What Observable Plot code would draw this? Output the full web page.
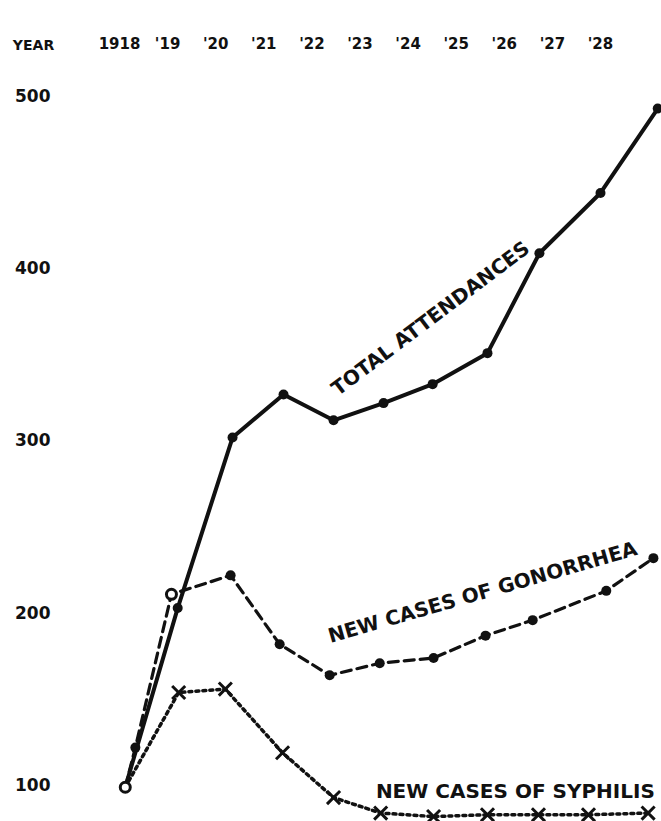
<!DOCTYPE html>
<html><head><meta charset="utf-8">
<script src="https://cdn.jsdelivr.net/npm/d3@7"></script>
<script src="https://cdn.jsdelivr.net/npm/@observablehq/plot@0.6"></script>
<style>body{margin:0;background:#fff}</style>
</head><body><div id="chart"></div>
<script>
// Year tick labels (top axis)
const yearTicks = [1918, 1919, 1920, 1921, 1922, 1923, 1924, 1925, 1926, 1927, 1928];
const valueTicks = [100, 200, 300, 400, 500];

// Total attendances (positions, in year units)
const totalX = [1918.12, 1919.21, 1920.35, 1921.41, 1922.45, 1923.49, 1924.51, 1925.65, 1926.73, 1928.0, 1929.19];
const totalV = [99, 203, 302, 327, 312, 322, 333, 351, 409, 444, 493];

// New cases of gonorrhea
const gonX = [1918.12, 1918.33, 1919.08, 1920.31, 1921.33, 1922.37, 1923.41, 1924.53, 1925.61, 1926.59, 1928.12, 1929.10];
const gonV = [99, 122, 211, 222, 182, 164, 171, 174, 187, 196, 213, 232];

// New cases of syphilis
const syphX = [1918.12, 1919.23, 1920.20, 1921.39, 1922.45, 1923.43, 1924.53, 1925.65, 1926.71, 1927.75, 1928.99];
const syphV = [99, 154, 156, 119, 93, 84, 82, 83, 83, 83, 84];

// Series labels
const labels = [
  {text: "TOTAL ATTENDANCES", x: 1924.47, y: 371, rotate: -37},
  {text: "NEW CASES OF GONORRHEA", x: 1925.55, y: 212, rotate: -16},
  {text: "NEW CASES OF SYPHILIS", x: 1926.23, y: 96.5, rotate: 0}
];

const total = totalX.map((x, i) => ({x, y: totalV[i]}));
const gon = gonX.map((x, i) => ({x, y: gonV[i]}));
const syph = syphX.map((x, i) => ({x, y: syphV[i]}));

const ink = "#111";
const font = "DejaVu Sans";

const chart = Plot.plot({
  width: 661,
  height: 821,
  marginLeft: 119,
  marginRight: 61,
  marginTop: 96,
  marginBottom: 36,
  style: {fontFamily: font, background: "#fff", color: ink},
  x: {domain: [1918, 1928]},
  y: {domain: [100, 500]},
  marks: [
    Plot.axisX({anchor: "top", ticks: yearTicks, tickSize: 0, tickPadding: 48,
      tickFormat: d => d === 1918 ? "1918" : "'" + String(d).slice(2),
      fontSize: 15, fontWeight: "bold", label: null}),
    Plot.axisY({anchor: "left", ticks: valueTicks, tickSize: 0, tickPadding: 69,
      fontSize: 17, fontWeight: "bold", label: null}),
    Plot.text(["YEAR"], {frameAnchor: "top-left", dx: -86, dy: -56, fontSize: 14, fontWeight: "bold", textAnchor: "middle", fill: ink}),
    Plot.line(syph, {x: "x", y: "y", stroke: ink, strokeWidth: 3.5, strokeDasharray: "3,4"}),
    Plot.line(gon, {x: "x", y: "y", stroke: ink, strokeWidth: 3.2, strokeDasharray: "10,6"}),
    Plot.line(total, {x: "x", y: "y", stroke: ink, strokeWidth: 4}),
    Plot.dot(total, {x: "x", y: "y", r: 5, fill: ink, filter: (d, i) => i > 0}),
    Plot.dot(gon, {x: "x", y: "y", r: 5, fill: ink, filter: (d, i) => i > 0 && i !== 2}),
    Plot.dot(gon, {x: "x", y: "y", r: 5, fill: "#fff", stroke: ink, strokeWidth: 3, filter: (d, i) => i === 2}),
    Plot.dot(syph, {x: "x", y: "y", r: 6, symbol: "times", stroke: ink, strokeWidth: 3, filter: (d, i) => i > 0}),
    Plot.dot(total, {x: "x", y: "y", r: 5, fill: "#fff", stroke: ink, strokeWidth: 3, filter: (d, i) => i === 0}),
    ...labels.map(l => Plot.text([l], {x: "x", y: "y", text: "text", rotate: l.rotate, fontSize: 20, fontWeight: "bold", fill: ink, textAnchor: "middle", stroke: "#fff", strokeWidth: 4}))
  ]
});
document.getElementById("chart").appendChild(chart);
</script>
</body></html>
